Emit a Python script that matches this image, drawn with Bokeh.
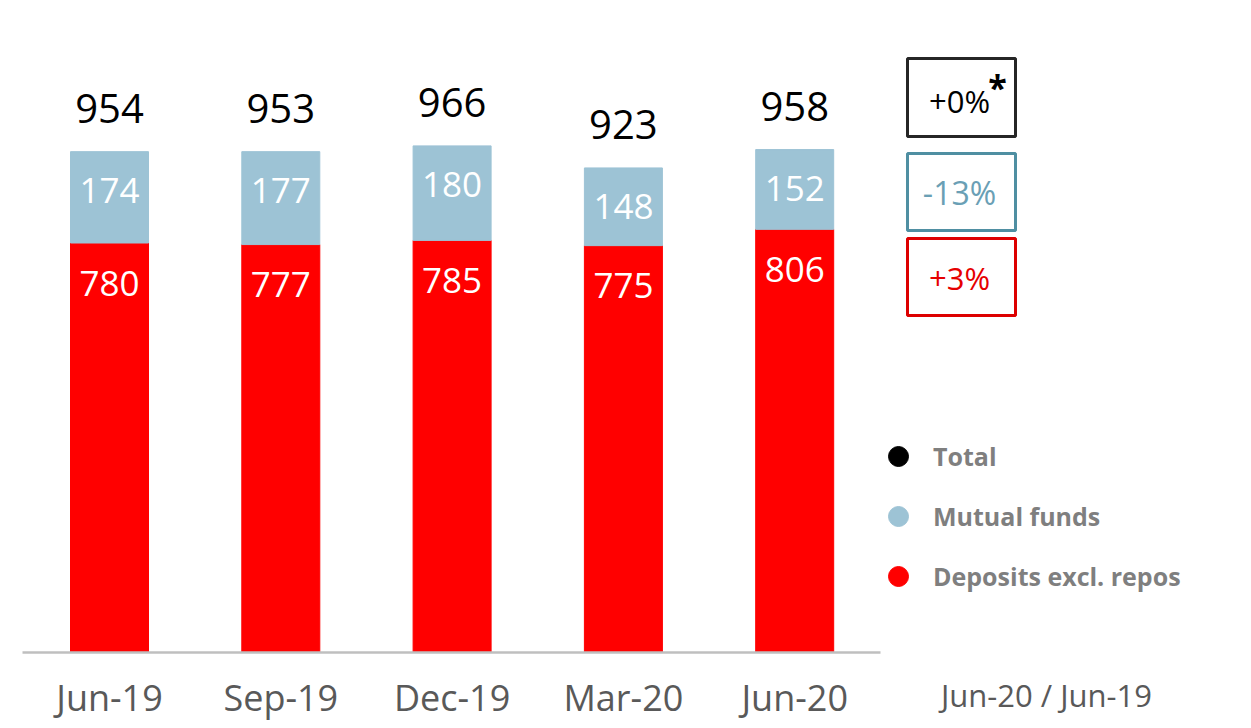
from bokeh.plotting import figure
from bokeh.models import Range1d, ColumnDataSource, Legend, LegendItem
from bokeh.core.properties import value
from bokeh.embed import file_html
from bokeh.resources import INLINE

# ---- data ----
categories = ["Jun-19", "Sep-19", "Dec-19", "Mar-20", "Jun-20"]
deposits = [780, 777, 785, 775, 806]
mutual_funds = [174, 177, 180, 148, 152]
totals = [954, 953, 966, 923, 958]
change_labels = ["+0%", "-13%", "+3%"]
period_label = "Jun-20 / Jun-19"
legend_labels = ["Total", "Mutual funds", "Deposits excl. repos"]

RED = "#ff0000"
BLUE = "#9dc3d5"
FONT = "Open Sans"

W, H = 1235, 726
SX = 171.3          # px per category step
X0PX = 109          # px of first bar centre
SY = 0.525          # px per unit
BASE = 652          # px of y = 0

def X(px):
    return (px - X0PX) / SX

def Y(py):
    return (BASE - py) / SY

p = figure(width=W, height=H, output_backend="svg", toolbar_location=None,
           x_range=Range1d(X(0), X(W)), y_range=Range1d(Y(H), Y(0)),
           x_axis_location=None, y_axis_location=None,
           min_border=0, min_border_left=0, min_border_right=0,
           min_border_top=0, min_border_bottom=0)
p.outline_line_color = None
p.xgrid.visible = False
p.ygrid.visible = False
p.background_fill_color = "white"
p.border_fill_color = "white"

xs = list(range(len(categories)))
tops = [d + m for d, m in zip(deposits, mutual_funds)]
src = ColumnDataSource(dict(x=xs, dep=deposits, mf=mutual_funds, top=tops,
                            zero=[0] * len(xs), cat=categories,
                            tot=[str(t) for t in totals],
                            dep_s=[str(v) for v in deposits],
                            mf_s=[str(v) for v in mutual_funds]))

bw = 78 / SX
p.vbar(x="x", bottom=0, top="dep", width=bw, color=RED, source=src)
p.vbar(x="x", bottom="dep", top="top", width=bw, color=BLUE, source=src)

# baseline (category axis line)
p.line(x=[X(22), X(880)], y=[0, 0], line_color="#bfbfbf", line_width=2.5)

# category labels
p.text(x="x", y="zero", text="cat", source=src, text_align="center",
       text_baseline="middle", y_offset=45, text_font=value(FONT),
       text_font_size="36px", text_color="#595959")
p.text(x=[X(1046)], y=[Y(694)], text=[period_label], text_align="center",
       text_baseline="middle", text_font=value(FONT), text_font_size="31px",
       text_color="#595959")

# value labels
p.text(x="x", y="top", text="tot", source=src, text_align="center",
       text_baseline="middle", y_offset=-43, text_font=value(FONT),
       text_font_size="40px", text_color="black")
p.text(x="x", y="top", text="mf_s", source=src, text_align="center",
       text_baseline="middle", y_offset=39, text_font=value(FONT),
       text_font_size="35px", text_color="white")
p.text(x="x", y="dep", text="dep_s", source=src, text_align="center",
       text_baseline="middle", y_offset=40, text_font=value(FONT),
       text_font_size="35px", text_color="white")

# change boxes
box_specs = [((58, 136), "#262626", "black", "31px"),
             ((153, 230), "#4f8fa2", "#6a9fb5", "32px"),
             ((238, 315), "#dd0000", "#e60000", "31px")]
for (t, b), lc, tc, fs in box_specs:
    p.quad(left=X(907), right=X(1015), top=Y(t), bottom=Y(b),
           fill_color=None, line_color=lc, line_width=3)
text_y = [100, 192, 277]
for lbl, (_, _, tc, fs), ty in zip(change_labels, box_specs, text_y):
    p.text(x=[X(959)], y=[Y(ty)], text=[lbl], text_align="center",
           text_baseline="middle", text_font=value(FONT), text_font_size=fs,
           text_color=tc)
p.text(x=[X(997)], y=[Y(86)], text=["*"], text_align="center",
       text_baseline="middle", text_font=value(FONT), text_font_size="34px",
       text_font_style="bold", text_color="black")

# legend (dummy renderers carry the marker style)
nan = float("nan")
r_tot = p.scatter(x=[nan], y=[nan], size=20, color="black")
r_mf = p.scatter(x=[nan], y=[nan], size=20, color=BLUE)
r_dep = p.scatter(x=[nan], y=[nan], size=20, color=RED)
legend = Legend(items=[LegendItem(label=legend_labels[0], renderers=[r_tot]),
                       LegendItem(label=legend_labels[1], renderers=[r_mf]),
                       LegendItem(label=legend_labels[2], renderers=[r_dep])],
                location=(873, H - 601), orientation="vertical",
                glyph_width=50, glyph_height=50, label_height=50, label_standoff=10,
                spacing=10, padding=0, margin=0, border_line_color=None,
                background_fill_color=None, label_text_font=FONT,
                label_text_font_size="25px", label_text_font_style="bold",
                label_text_color="#7f7f7f")
p.add_layout(legend, "center")

open("out.html", "w").write(file_html(p, INLINE))
